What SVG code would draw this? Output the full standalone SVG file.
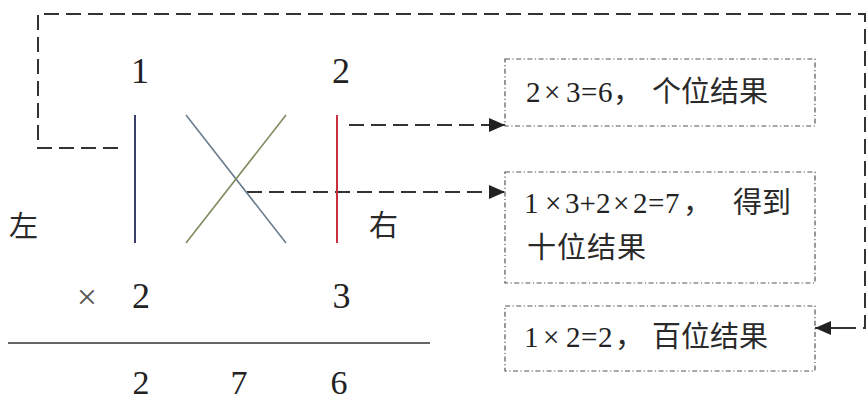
<svg xmlns="http://www.w3.org/2000/svg" width="867" height="403" viewBox="0 0 867 403">
<defs>
<marker id="ah" markerUnits="userSpaceOnUse" markerWidth="17" markerHeight="14" refX="16" refY="7" orient="auto">
<path d="M0,0 L16,7 L0,14 Z" fill="#222"/>
</marker>
<style>
.dash{fill:none;stroke:#333;stroke-width:2;stroke-dasharray:15 7}
.box{fill:none;stroke:#555;stroke-width:1.2;stroke-dasharray:5 2.5 1.2 2.5}
.t{fill:#222}
.n{font-size:36px;text-anchor:middle}
.b{font-size:34px}
.d{font-size:29px}
.c{font-size:29px;fill:#2a2a2a}
</style>
</defs>
<rect width="867" height="403" fill="#ffffff"/>

<g id="connectors">
<path class="dash" d="M118,148 H38 V14 H865 V328 H848"/>
<line x1="848" y1="328" x2="815" y2="328" stroke="#333" stroke-width="2" marker-end="url(#ah)"/>
<line class="dash" x1="349" y1="125" x2="505" y2="125" marker-end="url(#ah)"/>
<line class="dash" x1="247" y1="192" x2="505" y2="192" marker-end="url(#ah)"/>
</g>

<g id="cross-diagram">
<line x1="135" y1="115" x2="135" y2="243" stroke="#3b3f6a" stroke-width="2"/>
<line x1="337" y1="115" x2="337" y2="243" stroke="#c8303c" stroke-width="2"/>
<line x1="186" y1="115" x2="286" y2="243" stroke="#6b7c8c" stroke-width="1.6"/>
<line x1="286" y1="115" x2="186" y2="243" stroke="#7d8c5e" stroke-width="1.6"/>
</g>

<g id="labels" font-family="Liberation Serif, serif">
<text class="t n" x="140" y="83">1</text>
<text class="t n" x="341" y="83">2</text>
<text class="c" x="9" y="237" font-family="Noto Sans CJK SC, sans-serif">左</text>
<text class="c" x="369" y="236" font-family="Noto Sans CJK SC, sans-serif">右</text>
<text class="t n" x="87" y="309" fill="#555" style="fill:#555">×</text>
<text class="t n" x="141" y="308">2</text>
<text class="t n" x="341.5" y="308">3</text>
<line x1="8" y1="343" x2="430" y2="343" stroke="#333" stroke-width="1.5"/>
<text class="t n b" x="141" y="394">2</text>
<text class="t n b" x="239" y="394">7</text>
<text class="t n b" x="339" y="394">6</text>
</g>

<g id="box-ones" font-family="Liberation Serif, serif">
<rect class="box" x="505" y="59" width="310" height="67"/>
<text class="t d" y="102"><tspan x="526">2</tspan><tspan x="544">×</tspan><tspan x="566">3</tspan><tspan x="581">=</tspan><tspan x="598">6</tspan><tspan class="c" x="613" font-family="Noto Sans CJK SC, sans-serif">，</tspan><tspan class="c" x="652" font-family="Noto Sans CJK SC, sans-serif">个位结果</tspan></text>
</g>

<g id="box-tens" font-family="Liberation Serif, serif">
<rect class="box" x="505" y="172" width="310" height="111"/>
<text class="t d" y="213"><tspan x="524">1</tspan><tspan x="545">×</tspan><tspan x="565">3</tspan><tspan x="579.5">+</tspan><tspan x="596">2</tspan><tspan x="613">×</tspan><tspan x="633">2</tspan><tspan x="648">=</tspan><tspan x="665">7</tspan><tspan class="c" x="683" font-family="Noto Sans CJK SC, sans-serif">，</tspan><tspan class="c" x="733" font-family="Noto Sans CJK SC, sans-serif">得到</tspan></text>
<text class="c" x="527" y="258" letter-spacing="1" font-family="Noto Sans CJK SC, sans-serif">十位结果</text>
</g>

<g id="box-hundreds" font-family="Liberation Serif, serif">
<rect class="box" x="505" y="306" width="310" height="65"/>
<text class="t d" y="347"><tspan x="524">1</tspan><tspan x="543">×</tspan><tspan x="566">2</tspan><tspan x="581">=</tspan><tspan x="598">2</tspan><tspan class="c" x="615" font-family="Noto Sans CJK SC, sans-serif">，</tspan><tspan class="c" x="652" font-family="Noto Sans CJK SC, sans-serif">百位结果</tspan></text>
</g>
</svg>
